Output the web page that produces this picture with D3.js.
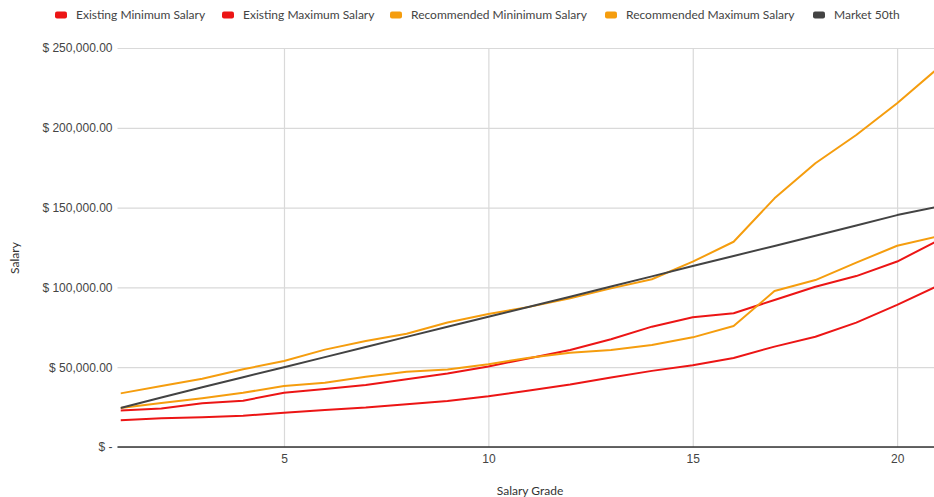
<!DOCTYPE html>
<html>
<head>
<meta charset="utf-8">
<script src="https://cdn.jsdelivr.net/npm/d3@7/dist/d3.min.js"></script>
<style>
  html, body { margin: 0; padding: 0; background: #fff; }
  svg { display: block; font-family: Lato, "Open Sans", sans-serif; }
</style>
</head>
<body>
<svg id="chart" width="934" height="497"></svg>
<script>
// Salary grades 1..21
const grades = d3.range(1, 22);

const existingMin = [16800, 18000, 18700, 19600, 21500, 23200, 24700, 26800, 28800, 31800, 35400, 39200, 43600, 47700, 51200, 55800, 62900, 69100, 77900, 89000, 101000];
const existingMax = [22800, 24100, 27400, 29000, 34000, 36300, 38900, 42500, 46000, 50500, 55600, 60800, 67500, 75400, 81300, 83800, 92100, 100400, 107100, 116200, 129300];
const recMin = [24400, 27500, 30600, 34000, 38200, 40300, 44000, 47200, 48500, 51900, 55900, 59000, 60800, 63900, 68700, 75800, 97700, 104600, 115500, 126100, 132000];
const recMax = [33600, 38200, 42800, 48700, 53900, 61000, 66400, 71000, 78000, 83300, 87800, 93200, 99400, 105100, 116100, 128600, 155800, 177800, 195500, 215400, 237300];
const market50 = [24400, 31000, 37400, 43700, 50000, 56300, 62600, 69000, 75300, 81600, 87900, 94200, 100600, 106900, 113400, 119700, 126000, 132400, 138800, 145300, 150600];

const yTicks = [0, 50000, 100000, 150000, 200000, 250000];
const xTicks = [5, 10, 15, 20];

const seriesNames = ["Existing Minimum Salary", "Existing Maximum Salary", "Recommended Mininimum Salary", "Recommended Maximum Salary", "Market 50th"];
const seriesColors = ["#ec1515", "#ec1515", "#f59d0e", "#f59d0e", "#434343"];
const seriesValues = [existingMin, existingMax, recMin, recMax, market50];

const svg = d3.select("#chart");
const W = 934, H = 497;
const plot = { left: 120.5, right: 938, top: 48, bottom: 447 };
const tickOut = 3;

const x = d3.scaleLinear().domain([1, 21]).range([plot.left, plot.right]);
const y = d3.scaleLinear().domain([0, 250000]).range([plot.bottom, plot.top]);

svg.append("defs").append("clipPath").attr("id", "plotClip")
  .append("rect").attr("x", plot.left).attr("y", 0)
  .attr("width", plot.right - plot.left).attr("height", plot.bottom + 2);

// Horizontal gridlines and y labels
const fmtMoney = v => v === 0 ? "$ -" : "$ " + d3.format(",.2f")(v);
const yAxis = d3.axisLeft(y).tickValues(yTicks).tickFormat(fmtMoney)
  .tickSize(-(W - plot.left + tickOut)).tickPadding(5);
const gy = svg.append("g").attr("transform", `translate(${plot.left - tickOut},0)`).call(yAxis);
gy.select(".domain").remove();
gy.selectAll(".tick line").attr("stroke", "#d9d9d9").attr("stroke-width", 1.2);
gy.selectAll(".tick text").attr("fill", "#444").attr("font-size", 12);

// Vertical gridlines and x labels
const xAxis = d3.axisBottom(x).tickValues(xTicks).tickFormat(d3.format("d"))
  .tickSize(-(plot.bottom - plot.top)).tickPadding(7);
const gx = svg.append("g").attr("transform", `translate(0,${plot.bottom})`).call(xAxis);
gx.select(".domain").remove();
gx.selectAll(".tick line").attr("stroke", "#d9d9d9").attr("stroke-width", 1.2);
gx.selectAll(".tick text").attr("fill", "#444").attr("font-size", 12);

// Baseline
svg.append("line")
  .attr("x1", plot.left - tickOut).attr("x2", W)
  .attr("y1", y(0)).attr("y2", y(0))
  .attr("stroke", "#333").attr("stroke-width", 1.3);

// Series lines
const line = d3.line().x((d, i) => x(grades[i])).y(d => y(d));
const gLines = svg.append("g").attr("clip-path", "url(#plotClip)");
seriesValues.forEach((vals, i) => {
  gLines.append("path")
    .datum(vals)
    .attr("d", line)
    .attr("fill", "none")
    .attr("stroke", seriesColors[i])
    .attr("stroke-width", 2)
    .attr("stroke-linejoin", "round");
});

// Axis titles
svg.append("text")
  .attr("x", 530).attr("y", 495)
  .attr("text-anchor", "middle").attr("font-size", 12).attr("fill", "#333")
  .text("Salary Grade");
svg.append("text")
  .attr("transform", "translate(19,258) rotate(-90)")
  .attr("text-anchor", "middle").attr("font-size", 12).attr("fill", "#333")
  .text("Salary");

// Legend
const legendX = [55, 222, 390, 605, 813];
const legend = svg.append("g");
seriesNames.forEach((name, i) => {
  const g = legend.append("g").attr("transform", `translate(${legendX[i]},15)`);
  g.append("rect").attr("x", 0).attr("y", -3.5).attr("width", 12).attr("height", 7)
    .attr("rx", 2).attr("fill", seriesColors[i]);
  g.append("text").attr("x", 21).attr("y", 0).attr("dy", "0.35em")
    .attr("font-size", 12).attr("fill", "#444").text(name);
});
</script>
</body>
</html>
